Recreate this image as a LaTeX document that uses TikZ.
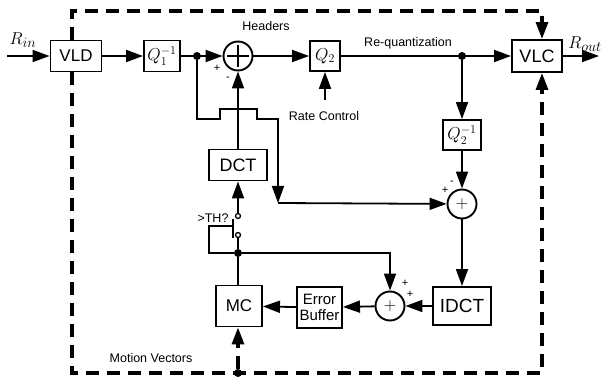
\documentclass[tikz,border=0pt]{standalone}
\usepackage{fontspec}
\setmainfont{Liberation Sans}
\usepackage{tikz}
\usetikzlibrary{arrows.meta}
\tikzset{
  block/.style={draw,line width=1.9pt,inner sep=0pt,align=center,
    font=\fontsize{17}{17}\selectfont},
  qblock/.style={block,font=\fontsize{18}{18}\selectfont},
  sumnode/.style={circle,draw,line width=1.9pt,inner sep=0pt,minimum size=29pt,
    font=\fontsize{18}{18}\selectfont},
  endtip/.style={-{Triangle[length=17pt,width=12pt]}},
  wire/.style={line width=1.8pt},
  flow/.style={endtip,line width=1.8pt},
  frame/.style={line width=3.2pt,dash pattern=on 13pt off 8pt},
  dot/.style={circle,fill,inner sep=0pt,minimum size=8pt},
  contact/.style={circle,draw,fill=white,line width=1.3pt,inner sep=0pt,minimum size=5pt},
  smalllabel/.style={inner sep=0pt,font=\fontsize{12.5}{13}\selectfont},
  sign/.style={inner sep=0pt,font=\fontsize{11}{11}\selectfont}
}

\begin{document}
\begin{tikzpicture}[x=1pt,y=-1pt]
  \useasboundingbox (0,0) rectangle (602,379);
  \coordinate (ftl) at (72,11);
  \coordinate (ftr) at (542,11);
  \coordinate (fbl) at (72,373);
  \coordinate (fbr) at (542,373);
  \coordinate (rin) at (7,56);
  \coordinate (rout) at (599,56);
  \coordinate (rc) at (325,100);
  \coordinate (hopl) at (220,119);
  \coordinate (hopr) at (257,119);
  \coordinate (xc) at (278,203);
  \coordinate (blade) at (233,226);
  \coordinate (ctl) at (209,253);

  \node[block,minimum width=51pt,minimum height=31pt] (vld) at (76,56) {VLD};
  \node[qblock,minimum width=36pt,minimum height=31pt] (qone) at (162,56) {$Q_1^{-1}$};
  \node[sumnode] (sumtop) at (238,56) {};
  \node[qblock,minimum width=30pt,minimum height=30pt] (qtwo) at (325,56) {$Q_2$};
  \node[block,minimum width=50pt,minimum height=32pt,font=\fontsize{18}{18}\selectfont]
    (vlc) at (537,56) {VLC};
  \node[qblock,minimum width=38pt,minimum height=30pt] (qtwoinv) at (462,135) {$Q_2^{-1}$};
  \node[sumnode] (summid) at (462,204) {$+$};
  \node[block,minimum width=58pt,minimum height=38pt,font=\fontsize{19}{19}\selectfont]
    (idct) at (462,306) {IDCT};
  \node[sumnode] (sumbot) at (390,306) {$+$};
  \node[block,minimum width=45pt,minimum height=41pt,font=\fontsize{15}{16}\selectfont]
    (ebuf) at (319.5,307.5) {Error\\Buffer};
  \node[block,minimum width=46pt,minimum height=41pt] (mc) at (239,306) {MC};
  \node[block,minimum width=58pt,minimum height=31pt,font=\fontsize{18}{18}\selectfont]
    (dct) at (238,165) {DCT};

  \draw[line width=1.1pt] ([xshift=-11pt]sumtop.center) -- ([xshift=11pt]sumtop.center);
  \draw[line width=1.1pt] ([yshift=-11pt]sumtop.center) -- ([yshift=11pt]sumtop.center);

  \draw[frame,endtip] (vld.north -| ftl) |- (ftr) -- (vlc.north -| ftr);
  \draw[frame,endtip] (vld.south -| fbl) |- (fbr) -- (vlc.south -| fbr);

  \node[dot] (qdot) at (197,56) {};
  \node[dot] (rqdot) at (462,56) {};
  \node[dot] (jn) at (238,253) {};
  \node[dot] (mvdot) at (238,373) {};
  \node[contact] (swtop) at (238,216) {};
  \node[contact] (swbot) at (238,235) {};

  \draw[flow] (rin) -- (vld);
  \draw[flow] (vld) -- (qone);
  \draw[flow] (qone) -- (sumtop);
  \draw[flow] (sumtop) -- (qtwo);
  \draw[flow] (qtwo) -- (vlc);
  \draw[flow] (vlc) -- (rout);
  \draw[flow] (rc) -- (qtwo);
  \draw[flow] (rqdot) -- (qtwoinv);
  \draw[flow] (qtwoinv) -- (summid);
  \draw[flow] (summid) -- (idct);
  \draw[flow] (idct) -- (sumbot);
  \draw[flow] (sumbot) -- (ebuf);
  \draw[flow] (ebuf) -- (mc);
  \draw[flow] (dct) -- (sumtop);
  \draw[flow] (qdot) |- (hopl) -- ++(0,-10) -| (hopr) -| (xc);
  \draw[flow] (xc) -- (summid);
  \draw[flow] (swtop) -- (dct);
  \draw[wire] (swbot) -- (jn);
  \draw[wire] (jn) -- (jn |- mc.north);
  \draw[flow] (jn) -| (sumbot);
  \draw[wire] (233,219) -- (233,238);
  \draw[wire] (blade) -| (ctl) -- (jn);
  \draw[frame,endtip] (mvdot) -- (jn |- mc.south);

  \node[smalllabel] (hdr) at (266,26) {Headers};
  \node[smalllabel] (rq) at (408,43) {Re-quantization};
  \node[smalllabel] (rate) at (324,116) {Rate Control};
  \node[smalllabel] (mv) at (151,358) {Motion Vectors};
  \node[smalllabel] (th) at (213,218) {>TH?};
  \node[font=\fontsize{19}{19}\selectfont,inner sep=0pt] (rinlbl) at (23,40) {$R_{in}$};
  \node[font=\fontsize{19}{19}\selectfont,inner sep=0pt] (routlbl) at (585,44) {$R_{out}$};

  \node[sign] at (217,68) {+};
  \node[sign] at (228,79) {-};
  \node[sign] at (445,190) {+};
  \node[sign] at (452,183) {-};
  \node[sign] at (405,283) {+};
  \node[sign] at (410,294) {+};
\end{tikzpicture}
\end{document}
